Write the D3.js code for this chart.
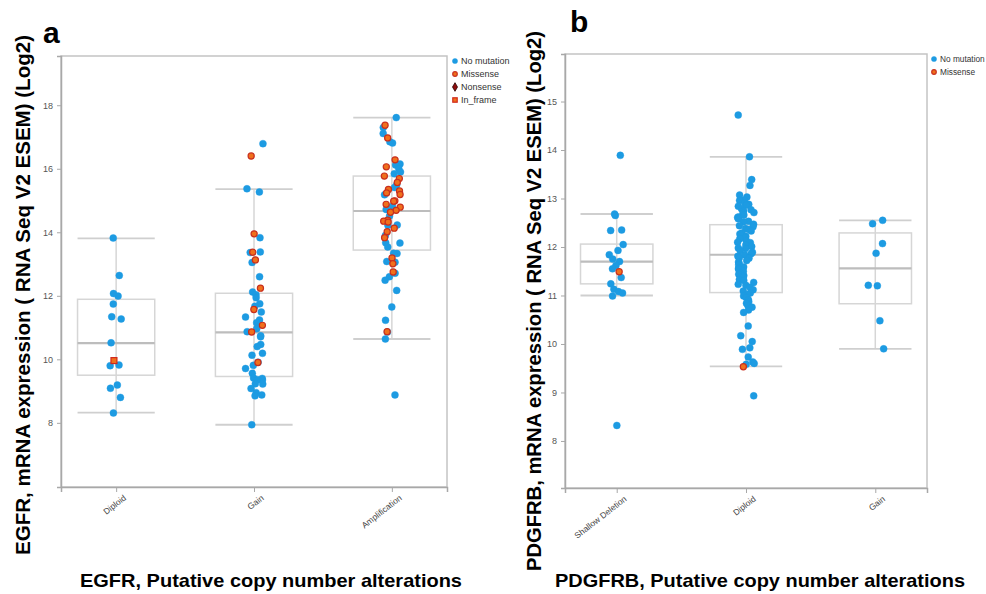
<!DOCTYPE html>
<html>
<head>
<meta charset="utf-8">
<script src="https://cdn.jsdelivr.net/npm/d3@7"></script>
<style>
  body { margin: 0; background: #fff; }
  svg { display: block; font-family: "Liberation Sans", Arial, sans-serif; }
</style>
</head>
<body>
<svg id="chart" width="986" height="594"></svg>
<script>
// ---------- EGFR panel (a) ----------
const egfrCategories = ["Diploid", "Gain", "Amplification"];
const egfrTicks = [8, 10, 12, 14, 16, 18];
// box statistics per category: lower whisker, Q1, median, Q3, upper whisker
const egfrWhiskerLow = [8.32, 7.94, 10.64];
const egfrQ1 = [9.50, 9.46, 13.44];
const egfrMedian = [10.51, 10.85, 14.67];
const egfrQ3 = [11.89, 12.08, 15.77];
const egfrWhiskerHigh = [13.81, 15.36, 17.61];

// samples: [log2 expression, mutation type]
const egfrDiploid = [
  [13.82, "none"], [12.64, "none"], [11.99, "none"], [12.07, "none"], [11.74, "none"],
  [11.27, "none"], [11.34, "none"], [10.52, "none"], [9.96, "inframe"], [9.80, "none"],
  [9.82, "none"], [9.19, "none"], [9.09, "none"], [8.80, "none"], [8.31, "none"]
];
const egfrGain = [
  [16.79, "none"], [16.40, "missense"], [15.37, "none"], [15.27, "none"], [13.95, "missense"],
  [13.83, "none"], [13.38, "none"], [13.36, "none"], [13.37, "missense"], [13.13, "missense"],
  [13.05, "none"], [12.60, "none"], [12.24, "missense"], [12.12, "none"], [12.03, "none"],
  [11.94, "none"], [11.75, "none"], [11.67, "none"], [11.57, "missense"], [11.49, "none"],
  [11.33, "none"], [11.24, "none"], [11.15, "none"], [11.07, "missense"], [10.96, "none"],
  [10.87, "none"], [10.86, "missense"], [10.71, "none"], [10.74, "none"], [10.47, "none"],
  [10.40, "none"], [10.19, "none"], [10.13, "none"], [9.91, "none"], [9.90, "missense"],
  [9.81, "none"], [9.71, "none"], [9.56, "none"], [9.40, "none"], [9.41, "none"],
  [9.35, "none"], [9.36, "none"], [9.22, "none"], [9.23, "none"], [9.08, "none"],
  [8.95, "none"], [8.88, "none"], [8.85, "none"], [7.94, "none"]
];
const egfrAmplification = [
  [17.61, "none"], [17.37, "missense"], [17.30, "none"], [17.11, "none"], [16.97, "missense"],
  [16.85, "none"], [16.81, "none"], [16.28, "missense"], [16.15, "none"], [16.13, "none"],
  [16.12, "none"], [16.06, "missense"], [16.01, "none"], [15.90, "none"], [15.84, "none"],
  [15.77, "missense"], [15.69, "missense"], [15.57, "missense"], [15.50, "none"], [15.41, "none"],
  [15.35, "missense"], [15.30, "missense"], [15.24, "missense"], [15.19, "missense"], [15.18, "none"],
  [14.99, "missense"], [14.98, "missense"], [14.88, "missense"], [14.82, "none"], [14.79, "missense"],
  [14.72, "none"], [14.69, "missense"], [14.63, "missense"], [14.51, "none"], [14.38, "missense"],
  [14.35, "missense"], [14.32, "missense"], [14.23, "none"], [14.22, "none"], [14.13, "missense"],
  [14.02, "missense"], [13.90, "none"], [13.83, "missense"], [13.67, "none"], [13.66, "none"],
  [13.54, "none"], [13.33, "none"], [13.34, "none"], [13.19, "missense"], [13.08, "none"],
  [13.06, "none"], [13.01, "missense"], [12.75, "missense"], [12.71, "none"], [12.60, "none"],
  [12.49, "none"], [12.17, "none"], [11.65, "none"], [11.23, "none"], [10.86, "none"],
  [10.87, "missense"], [10.64, "none"], [8.88, "none"]
];
const egfrSamples = [egfrDiploid, egfrGain, egfrAmplification];
const egfrLegend = ["No mutation", "Missense", "Nonsense", "In_frame"];

// ---------- PDGFRB panel (b) ----------
const pdgfrbCategories = ["Shallow Deletion", "Diploid", "Gain"];
const pdgfrbTicks = [8, 9, 10, 11, 12, 13, 14, 15];
const pdgfrbWhiskerLow = [11.00, 9.54, 9.90];
const pdgfrbQ1 = [11.24, 11.06, 10.83];
const pdgfrbMedian = [11.70, 11.84, 11.56];
const pdgfrbQ3 = [12.06, 12.46, 12.29];
const pdgfrbWhiskerHigh = [12.68, 13.86, 12.55];

const pdgfrbShallow = [
  [13.89, "none"], [12.65, "none"], [12.68, "none"], [12.34, "none"], [12.35, "none"],
  [12.05, "none"], [11.93, "none"], [11.84, "none"], [11.75, "none"], [11.70, "none"],
  [11.62, "none"], [11.55, "none"], [11.49, "missense"], [11.37, "none"], [11.24, "none"],
  [11.13, "none"], [11.08, "none"], [11.05, "none"], [10.99, "none"], [8.32, "none"]
];
const pdgfrbDiploid = [
  [14.72, "none"], [13.86, "none"], [13.39, "none"], [13.27, "none"],
  [13.07, "none"], [13.03, "none"], [12.97, "none"], [12.96, "none"], [12.91, "none"],
  [12.88, "none"], [12.86, "none"], [12.84, "none"], [12.79, "none"], [12.77, "none"],
  [12.74, "none"], [12.71, "none"], [12.69, "none"], [12.66, "none"], [12.62, "none"],
  [12.61, "none"], [12.58, "none"], [12.53, "none"], [12.52, "none"], [12.47, "none"],
  [12.44, "none"], [12.42, "none"], [12.38, "none"], [12.36, "none"], [12.33, "none"],
  [12.29, "none"], [12.27, "none"], [12.22, "none"], [12.19, "none"], [12.17, "none"],
  [12.13, "none"], [12.10, "none"], [12.09, "none"], [12.04, "none"], [12.01, "none"],
  [11.98, "none"], [11.97, "none"], [11.93, "none"], [11.89, "none"], [11.86, "none"],
  [11.84, "none"], [11.81, "none"], [11.78, "none"], [11.77, "none"], [11.72, "none"],
  [11.69, "none"], [11.66, "none"], [11.63, "none"], [11.59, "none"], [11.56, "none"],
  [11.54, "none"], [11.50, "none"], [11.46, "none"], [11.44, "none"], [11.41, "none"],
  [11.38, "none"], [11.33, "none"], [11.31, "none"], [11.27, "none"], [11.23, "none"],
  [11.21, "none"], [11.17, "none"], [11.12, "none"], [11.09, "none"], [11.05, "none"],
  [11.02, "none"], [10.99, "none"], [10.96, "none"], [10.91, "none"], [10.87, "none"],
  [10.84, "none"], [10.80, "none"], [10.76, "none"], [10.70, "none"], [10.65, "none"],
  [10.37, "none"], [10.17, "none"], [10.05, "none"], [9.92, "none"], [9.89, "none"],
  [9.73, "none"], [9.63, "none"], [9.60, "none"], [9.58, "none"], [9.53, "missense"],
  [8.93, "none"]
];
const pdgfrbGain = [
  [12.55, "none"], [12.48, "none"], [12.07, "none"], [11.87, "none"], [11.21, "none"],
  [11.20, "none"], [10.48, "none"], [9.90, "none"]
];
const pdgfrbSamples = [pdgfrbShallow, pdgfrbDiploid, pdgfrbGain];
const pdgfrbLegend = ["No mutation", "Missense"];

// ---------- drawing ----------
const COLORS = {
  none: { fill: "#1d9be2", stroke: "#1d9be2" },
  missense: { fill: "#f0701c", stroke: "#c9301e" },
  nonsense: { fill: "#8e0d0d", stroke: "#2a0000" },
  inframe: { fill: "#f0701c", stroke: "#d0281c" }
};
const legendKey = { "No mutation": "none", "Missense": "missense", "Nonsense": "nonsense", "In_frame": "inframe" };

const svg = d3.select("#chart");

// small deterministic horizontal spread so overlapping samples stay visible
function spread(v, i) {
  const s = Math.sin(v * 12.9898 + i * 78.233) * 43758.5453;
  return (s - Math.floor(s)) - 0.5;
}

function drawMarker(g, type, x, y, size) {
  const c = COLORS[type];
  if (type === "none") {
    g.append("circle").attr("cx", x).attr("cy", y).attr("r", size)
      .attr("fill", c.fill).attr("stroke", c.stroke).attr("stroke-width", 0.4);
  } else if (type === "missense") {
    g.append("circle").attr("cx", x).attr("cy", y).attr("r", size * 0.88)
      .attr("fill", c.fill).attr("stroke", c.stroke).attr("stroke-width", 1.2);
  } else if (type === "inframe") {
    const s = size * 0.85;
    g.append("rect").attr("x", x - s).attr("y", y - s)
      .attr("width", s * 2).attr("height", s * 2)
      .attr("fill", c.fill).attr("stroke", c.stroke).attr("stroke-width", 1.2);
  } else {
    g.append("path")
      .attr("d", d3.symbol(d3.symbolDiamond, size * size * 3.2)())
      .attr("transform", `translate(${x},${y})`)
      .attr("fill", c.fill).attr("stroke", c.stroke).attr("stroke-width", 0.8);
  }
}

function panel(cfg) {
  const g = svg.append("g");
  const { left, right, top, bottom } = cfg.frame;

  const x = d3.scalePoint().domain(cfg.categories).range([left, right]).padding(0.4);
  const y = d3.scaleLinear().domain(cfg.yDomain).range([bottom, top]);
  const halfBox = x.step() * 0.28;

  // frame
  g.append("rect").attr("x", left).attr("y", top)
    .attr("width", right - left).attr("height", bottom - top)
    .attr("fill", "none").attr("stroke", "#c4c4c4").attr("stroke-width", 1.5);

  // y axis
  const yAxis = g.append("g").attr("transform", `translate(${left},0)`)
    .call(d3.axisLeft(y).tickValues(cfg.ticks).tickSize(4).tickPadding(4).tickFormat(d3.format("d")));
  yAxis.select(".domain").attr("stroke", "#a8a8a8").attr("stroke-width", 1.5);
  yAxis.selectAll(".tick line").attr("stroke", "#a8a8a8");
  yAxis.selectAll(".tick text").attr("fill", "#555").style("font-size", "9px")
    .style("font-family", "'Liberation Sans', Arial, sans-serif");

  // x axis
  const xAxis = g.append("g").attr("transform", `translate(0,${bottom})`)
    .call(d3.axisBottom(x).tickSize(5));
  xAxis.select(".domain").attr("stroke", "#a8a8a8").attr("stroke-width", 1.5);
  xAxis.selectAll(".tick line").attr("stroke", "#a8a8a8");
  xAxis.selectAll(".tick text").attr("fill", "#444")
    .style("font-size", "8.5px").style("font-family", "'Liberation Sans', Arial, sans-serif")
    .attr("x", 0).attr("y", 0).attr("dy", 0)
    .attr("text-anchor", "end")
    .attr("transform", "translate(10,12) rotate(-38)");

  // boxes
  cfg.categories.forEach((cat, i) => {
    const cx = x(cat);
    const bg = g.append("g");
    bg.append("line").attr("x1", cx).attr("x2", cx)
      .attr("y1", y(cfg.whiskerLow[i])).attr("y2", y(cfg.whiskerHigh[i]))
      .attr("stroke", "#d6d6d6").attr("stroke-width", 1.5);
    bg.append("rect").attr("x", cx - halfBox).attr("y", y(cfg.q3[i]))
      .attr("width", halfBox * 2).attr("height", y(cfg.q1[i]) - y(cfg.q3[i]))
      .attr("fill", "none").attr("stroke", "#d6d6d6").attr("stroke-width", 1.5);
    [cfg.whiskerLow[i], cfg.whiskerHigh[i]].forEach(v => {
      bg.append("line").attr("x1", cx - halfBox).attr("x2", cx + halfBox)
        .attr("y1", y(v)).attr("y2", y(v))
        .attr("stroke", "#cfcfcf").attr("stroke-width", 1.8);
    });
    bg.append("line").attr("x1", cx - halfBox).attr("x2", cx + halfBox)
      .attr("y1", y(cfg.median[i])).attr("y2", y(cfg.median[i]))
      .attr("stroke", "#bdbdbd").attr("stroke-width", 2.2);
  });

  // samples (no-mutation first, mutated on top)
  const pg = g.append("g");
  cfg.categories.forEach((cat, i) => {
    const pts = cfg.samples[i].map((d, j) => ({ v: d[0], t: d[1], j }));
    pts.sort((a, b) => (a.t === "none" ? 0 : 1) - (b.t === "none" ? 0 : 1));
    pts.forEach(p => {
      const px = x(cat) + spread(p.v, p.j) * x.step() * 0.13;
      drawMarker(pg, p.t, px, y(p.v), 3.5);
    });
  });

  // legend
  const lg = g.append("g");
  cfg.legend.forEach((name, i) => {
    const ly = cfg.legendPos[1] + i * 13;
    drawMarker(lg, legendKey[name], cfg.legendPos[0], ly, 2.6);
    lg.append("text").attr("x", cfg.legendPos[0] + 6).attr("y", ly + 3.2)
      .attr("fill", "#333").style("font-size", cfg.legendFont).text(name);
  });

  // axis titles
  g.append("text")
    .attr("transform", `translate(${cfg.yTitlePos[0]},${cfg.yTitlePos[1]}) rotate(-90)`)
    .attr("text-anchor", "middle").attr("font-weight", "bold")
    .attr("textLength", cfg.yTitleLen).attr("lengthAdjust", "spacingAndGlyphs")
    .style("font-size", "20.5px").attr("fill", "#000").text(cfg.yTitle);
  g.append("text")
    .attr("x", cfg.xTitlePos[0]).attr("y", cfg.xTitlePos[1])
    .attr("text-anchor", "middle").attr("font-weight", "bold")
    .attr("textLength", cfg.xTitleLen).attr("lengthAdjust", "spacingAndGlyphs")
    .style("font-size", "19px").attr("fill", "#000").text(cfg.xTitle);

  // panel letter
  g.append("text").attr("x", cfg.letterPos[0]).attr("y", cfg.letterPos[1])
    .attr("font-weight", "bold").style("font-size", "30px").attr("fill", "#000").text(cfg.letter);
}

panel({
  frame: { left: 61, right: 447, top: 56, bottom: 487 },
  categories: egfrCategories,
  yDomain: [5.98, 19.55],
  ticks: egfrTicks,
  whiskerLow: egfrWhiskerLow, q1: egfrQ1, median: egfrMedian, q3: egfrQ3, whiskerHigh: egfrWhiskerHigh,
  samples: egfrSamples,
  legend: egfrLegend, legendPos: [455, 61], legendFont: "9px",
  yTitle: "EGFR, mRNA expression ( RNA Seq V2 ESEM) (Log2)", yTitlePos: [30, 295], yTitleLen: 520,
  xTitle: "EGFR, Putative copy number alterations", xTitlePos: [271, 587], xTitleLen: 382,
  letter: "a", letterPos: [43, 43]
});

panel({
  frame: { left: 565, right: 927, top: 54, bottom: 488 },
  categories: pdgfrbCategories,
  yDomain: [7.03, 15.98],
  ticks: pdgfrbTicks,
  whiskerLow: pdgfrbWhiskerLow, q1: pdgfrbQ1, median: pdgfrbMedian, q3: pdgfrbQ3, whiskerHigh: pdgfrbWhiskerHigh,
  samples: pdgfrbSamples,
  legend: pdgfrbLegend, legendPos: [934, 59], legendFont: "8.3px",
  yTitle: "PDGFRB, mRNA expression ( RNA Seq V2 ESEM) (Log2)", yTitlePos: [541, 301], yTitleLen: 540,
  xTitle: "PDGFRB, Putative copy number alterations", xTitlePos: [760, 587], xTitleLen: 410,
  letter: "b", letterPos: [570, 32]
});
</script>
</body>
</html>
